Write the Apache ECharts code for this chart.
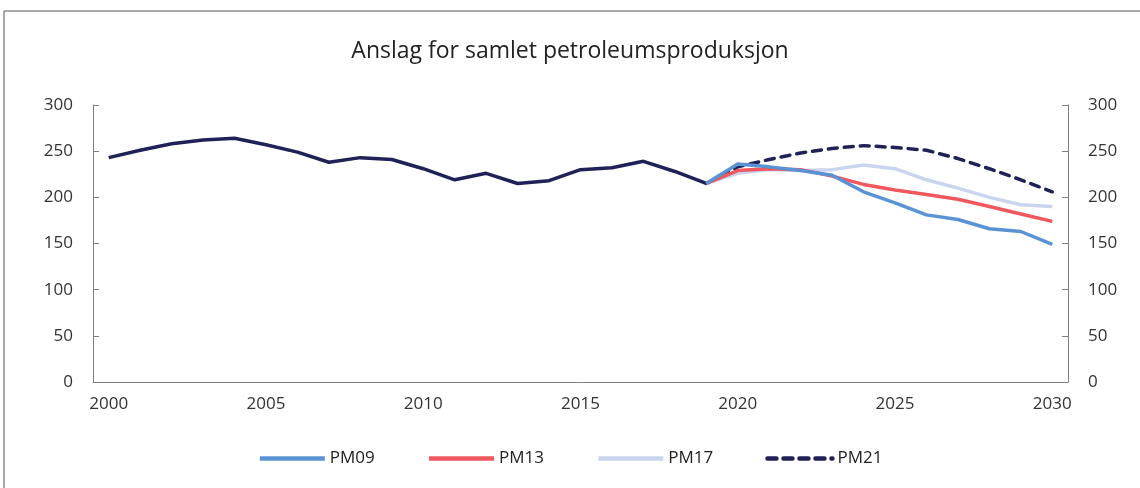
<!DOCTYPE html>
<html>
<head>
    <meta charset="utf-8">
    <script src="https://cdn.jsdelivr.net/npm/echarts@6/dist/echarts.min.js"></script>
    <style>
        html, body { margin: 0; padding: 0; background: #fff; }
        #chart { width: 1140px; height: 488px; }
    </style>
</head>
<body>
<div id="chart"></div>
<script type="text/javascript">
    // år på x-aksen
    var years = ['2000','2001','2002','2003','2004','2005','2006','2007','2008','2009',
        '2010','2011','2012','2013','2014','2015','2016','2017','2018','2019',
        '2020','2021','2022','2023','2024','2025','2026','2027','2028','2029','2030'];

    // historisk produksjon 2000-2019
    var historikk = [243, 251, 258, 262, 264, 257, 249, 238, 243, 241,
        231, 219, 226, 215, 218, 230, 232, 239, 228, 215];

    // anslag 2019-2030
    var pm09 = [215, 236, 233, 229, 224, 206, 194, 181, 176, 166, 163, 149];
    var pm13 = [215, 229, 231, 230, 223, 214, 208, 203, 198, 190, 182, 174];
    var pm17 = [215, 226, 230, 229, 230, 235, 231, 219, 210, 200, 192, 190];
    var pm21 = [215, 233, 241, 248, 253, 256, 254, 251, 242, 231, 219, 206];

    var yTicks = [0, 50, 100, 150, 200, 250, 300];

    var startAnslag = years.indexOf('2019');

    function anslag(values) {
        var out = [];
        for (var i = 0; i < years.length; i++) {
            out.push(i >= startAnslag ? values[i - startAnslag] : null);
        }
        return out;
    }

    var font = "'Open Sans', 'DejaVu Sans', sans-serif";
    var axisGray = '#7f7f7f';

    function yAxis(pos) {
        return {
            type: 'value',
            position: pos,
            min: yTicks[0],
            max: yTicks[yTicks.length - 1],
            interval: 50,
            axisLine: {show: true, lineStyle: {color: axisGray, width: 1}},
            axisTick: {show: true, inside: true, length: 6, lineStyle: {color: axisGray}},
            axisLabel: {color: '#333', fontSize: 17, fontFamily: font, margin: 20},
            splitLine: {show: false}
        };
    }

    var chart = echarts.init(document.getElementById('chart'));

    var option = {
        animation: false,
        title: {
            text: 'Anslag for samlet petroleumsproduksjon',
            left: 'center',
            top: 35,
            textStyle: {color: '#222', fontSize: 23, fontWeight: 'normal', fontFamily: font}
        },
        legend: {
            data: ['PM09', 'PM13', 'PM17', 'PM21'],
            top: 445,
            left: 'center',
            itemWidth: 65,
            itemHeight: 14,
            itemGap: 52,
            itemStyle: {opacity: 0},
            lineStyle: {width: 4.5},
            textStyle: {color: '#222', fontSize: 17, fontFamily: font}
        },
        grid: {left: 93, right: 72, top: 105, bottom: 106},
        xAxis: {
            type: 'category',
            data: years,
            boundaryGap: true,
            axisLine: {show: true, lineStyle: {color: axisGray, width: 1}},
            axisTick: {show: false},
            axisLabel: {
                interval: 4,
                color: '#333',
                fontSize: 17,
                fontFamily: font,
                margin: 14
            }
        },
        yAxis: [yAxis('left'), yAxis('right')],
        graphic: [
            {type: 'line', shape: {x1: 4, y1: 11, x2: 1140, y2: 11}, style: {stroke: '#555', lineWidth: 1}},
            {type: 'line', shape: {x1: 4, y1: 11, x2: 4, y2: 488}, style: {stroke: '#555', lineWidth: 1}}
        ],
        series: [
            {
                name: 'Historikk',
                type: 'line',
                data: historikk,
                symbol: 'none',
                lineStyle: {color: '#1f2157', width: 3.5}
            },
            {
                name: 'PM21',
                type: 'line',
                data: anslag(pm21),
                symbol: 'none',
                itemStyle: {color: '#1f2157'},
                lineStyle: {color: '#1f2157', width: 3.5, type: [9, 7], cap: 'round'}
            },
            {
                name: 'PM17',
                type: 'line',
                data: anslag(pm17),
                symbol: 'none',
                itemStyle: {color: '#c9d5ee'},
                lineStyle: {color: '#c9d5ee', width: 3.5}
            },
            {
                name: 'PM13',
                type: 'line',
                data: anslag(pm13),
                symbol: 'none',
                itemStyle: {color: '#f0575f'},
                lineStyle: {color: '#f0575f', width: 3.5}
            },
            {
                name: 'PM09',
                type: 'line',
                data: anslag(pm09),
                symbol: 'none',
                itemStyle: {color: '#5a93d4'},
                lineStyle: {color: '#5a93d4', width: 3.5}
            }
        ]
    };

    chart.setOption(option);
</script>
</body>
</html>
